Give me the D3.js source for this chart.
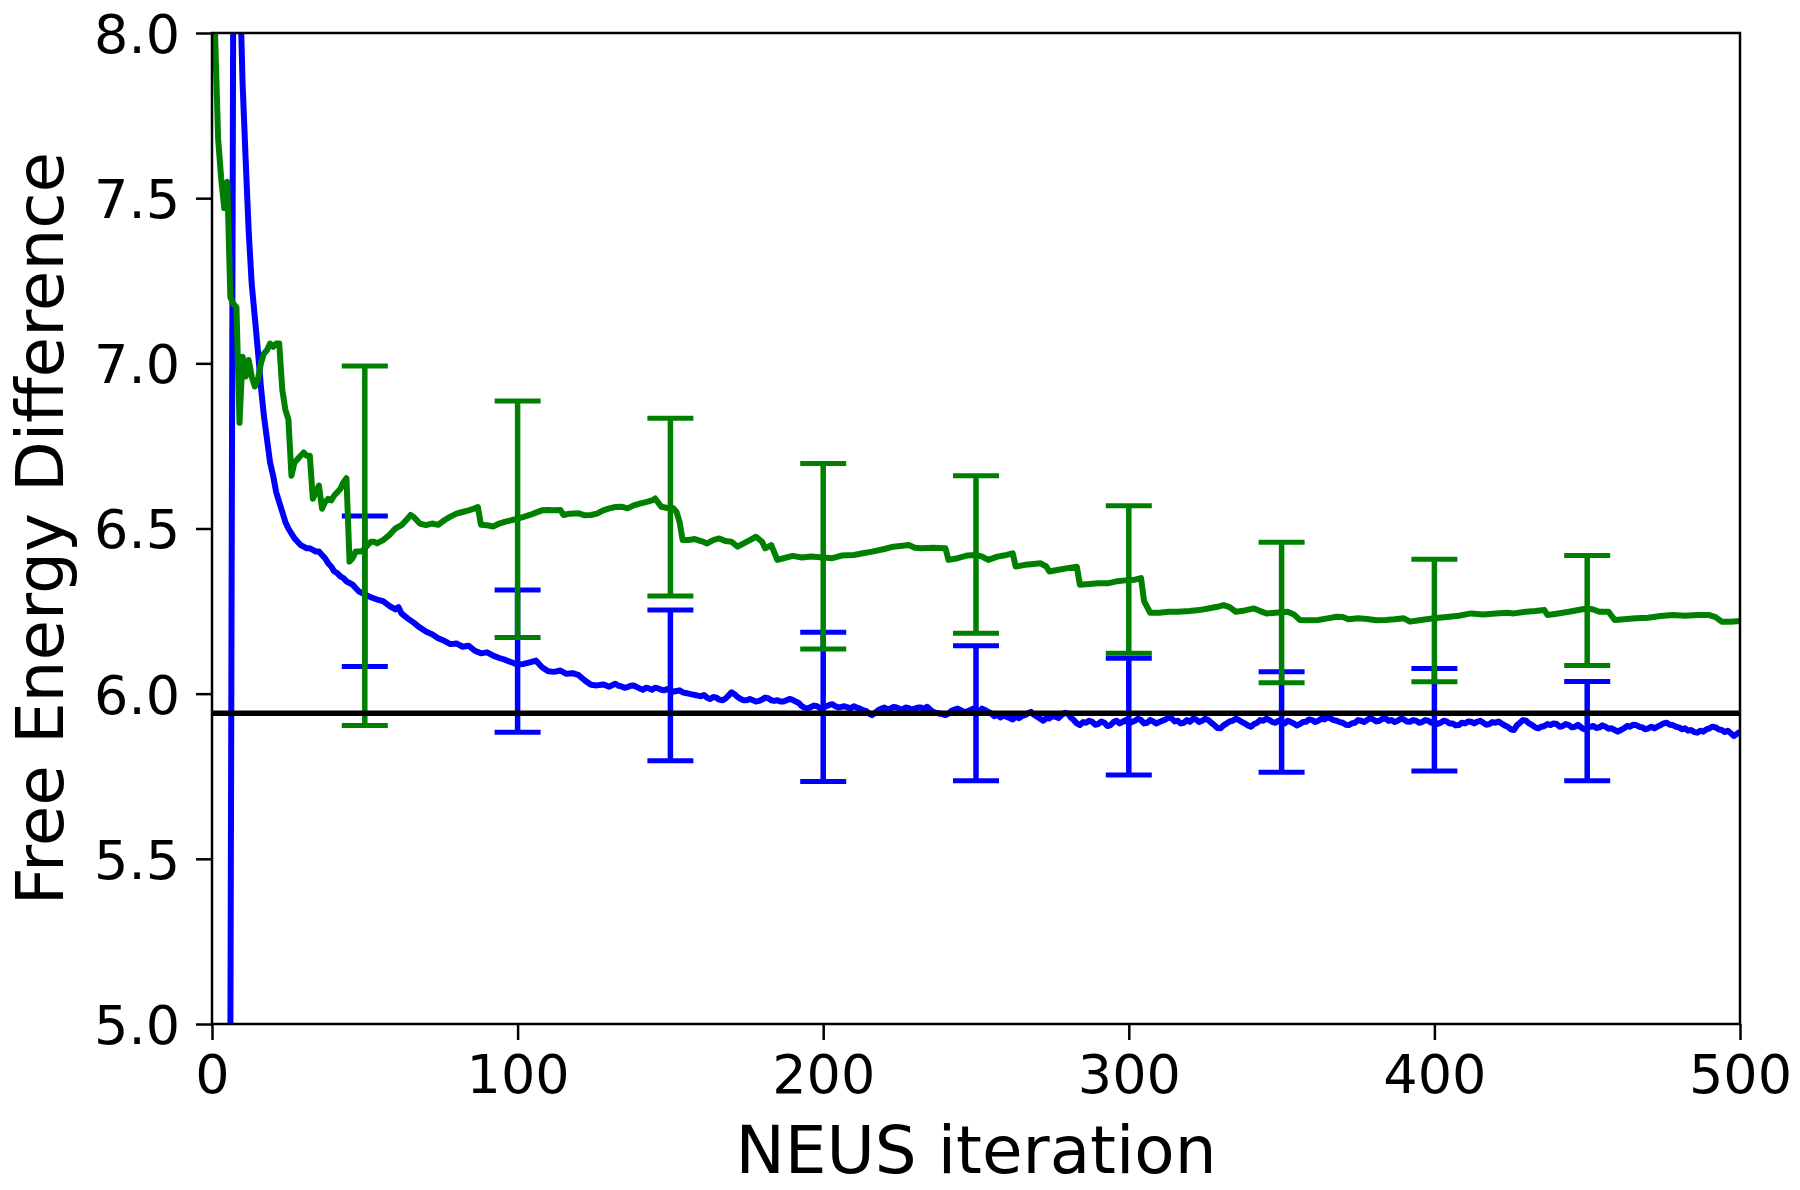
<!DOCTYPE html>
<html><head><meta charset="utf-8">
<script src="https://cdn.jsdelivr.net/npm/d3@7"></script>
<style>body{margin:0;background:#fff}</style>
</head><body>
<svg id="chart" width="1800" height="1190"></svg>
<script>
// ---------- DATA ----------
const xTicks = [0, 100, 200, 300, 400, 500];
const yTicks = [5.0, 5.5, 6.0, 6.5, 7.0, 7.5, 8.0];
const referenceValue = 5.941;

// blue series: [iteration, free energy difference]
const blueSeries = [
[6,4.90],[7,8.30],[8,9.50],[9,8.20],[10,7.85],[11,7.62],[12,7.40],[13,7.24],[14,7.14],[15,7.04],[16,6.93],[17,6.84],[18,6.77],[19,6.70],[20,6.66],[21,6.61],[22,6.58],[23,6.55],[24,6.52],[25,6.50],[26,6.485],[27,6.47],[28,6.46],[29,6.45],[30,6.445],[31,6.44],[32,6.44],[33,6.435],[34,6.43],[35,6.43],[36,6.42],[37,6.41],[38,6.395],[39,6.385],[40,6.37],[41,6.365],[42,6.355],[43,6.35],[44,6.34],[45,6.335],[46,6.33],[47,6.32],[48,6.31],[49,6.305],[50,6.30],
[52,6.292],[54,6.285],[56,6.280],[58,6.266],[60,6.255],[61,6.262],[62,6.243],[64,6.228],[66,6.215],[68,6.200],[70,6.188],[72,6.180],[74,6.168],[76,6.160],[78,6.150],[80,6.152],[82,6.142],[84,6.145],[86,6.130],[88,6.122],[90,6.125],[92,6.115],[94,6.108],[96,6.102],[98,6.095],[100,6.088],[102,6.090],[104,6.095],[106,6.100],[108,6.080],[110,6.068],[112,6.066],[114,6.070],[116,6.060],[118,6.062],[120,6.056],[122,6.040],[124,6.027],[126,6.025],[128,6.028],[130,6.021],
[131,6.026],[132,6.030],[133,6.024],[134,6.022],[135,6.018],[136,6.020],[137,6.024],[138,6.025],[139,6.020],[140,6.016],[141,6.012],[142,6.018],[143,6.016],[144,6.012],[145,6.018],[146,6.016],[147,6.012],[148,6.010],[149,6.014],[150,6.011],[151,6.006],[152,6.008],[153,6.010],[154,6.004],[155,6.002],[156,6.000],[157,5.998],[158,5.996],[159,5.994],[160,5.992],[161,5.996],[162,5.988],[163,5.984],[164,5.990],[165,5.988],[166,5.982],[167,5.980],[168,5.985],[169,5.994],[170,6.004],[171,5.998],[172,5.990],[173,5.984],[174,5.980],[175,5.980],[176,5.984],[177,5.980],[178,5.976],[179,5.978],[180,5.982],[181,5.988],[182,5.986],[183,5.980],[184,5.978],[185,5.980],[186,5.976],[187,5.976],[188,5.980],[189,5.984],[190,5.981],[191,5.976],[192,5.972],[193,5.962],[194,5.957],[195,5.956],[196,5.960],[197,5.964],[198,5.962],[199,5.956],[200,5.958],[201,5.962],[202,5.966],[203,5.968],[204,5.962],[205,5.958],[206,5.960],[207,5.962],[208,5.958],[209,5.956],[210,5.962],[211,5.958],[212,5.955],[213,5.950],[214,5.948],[215,5.940],[216,5.935],[217,5.942],[218,5.950],[219,5.955],[220,5.958],[221,5.952],[222,5.955],[223,5.960],[224,5.958],[225,5.954],[226,5.952],[227,5.958],[228,5.956],[229,5.952],[230,5.955],[231,5.958],[232,5.958],[233,5.954],[234,5.960],[235,5.952],[236,5.945],[237,5.942],[238,5.940],[239,5.938],[240,5.935],[241,5.940],[242,5.948],[243,5.952],[244,5.955],[245,5.950],[246,5.945],[247,5.946],[248,5.950],[249,5.954],
[250,5.952],[251,5.945],[252,5.955],[253,5.950],[254,5.945],[255,5.940],[256,5.932],[257,5.936],[258,5.928],[259,5.934],[260,5.930],[261,5.926],[262,5.922],[263,5.930],[264,5.926],[265,5.932],[266,5.935],[267,5.940],[268,5.945],[269,5.936],[270,5.930],[271,5.924],[272,5.918],[273,5.926],[274,5.925],[275,5.932],[276,5.930],[277,5.926],[278,5.935],[279,5.942],[280,5.940],[281,5.928],[282,5.920],[283,5.910],[284,5.905],[285,5.914],[286,5.912],[287,5.918],[288,5.915],[289,5.906],[290,5.908],[291,5.916],[292,5.912],[293,5.902],[294,5.905],[295,5.914],[296,5.918],[297,5.910],[298,5.915],[299,5.920],
[300,5.910],[301,5.914],[302,5.918],[303,5.924],[304,5.920],[305,5.910],[306,5.912],[307,5.920],[308,5.916],[309,5.910],[310,5.914],[311,5.918],[312,5.922],[313,5.928],[314,5.925],[315,5.916],[316,5.918],[317,5.910],[318,5.912],[319,5.920],[320,5.915],[321,5.924],[322,5.922],[323,5.914],[324,5.918],[325,5.924],[326,5.920],[327,5.912],[328,5.905],[329,5.896],[330,5.895],[331,5.904],[332,5.910],[333,5.916],[334,5.918],[335,5.924],[336,5.920],[337,5.914],[338,5.910],[339,5.904],[340,5.900],[341,5.908],[342,5.912],[343,5.920],[344,5.918],[345,5.924],[346,5.920],[347,5.914],[348,5.912],[349,5.918],
[350,5.915],[351,5.910],[352,5.918],[353,5.914],[354,5.910],[355,5.904],[356,5.908],[357,5.914],[358,5.915],[359,5.922],[360,5.920],[361,5.914],[362,5.918],[363,5.924],[364,5.922],[365,5.928],[366,5.925],[367,5.920],[368,5.918],[369,5.914],[370,5.912],[371,5.906],[372,5.905],[373,5.910],[374,5.912],[375,5.920],[376,5.918],[377,5.914],[378,5.920],[379,5.926],[380,5.922],[381,5.916],[382,5.918],[383,5.924],[384,5.925],[385,5.918],[386,5.920],[387,5.914],[388,5.918],[389,5.924],[390,5.922],[391,5.916],[392,5.915],[393,5.920],[394,5.918],[395,5.912],[396,5.914],[397,5.920],[398,5.918],[399,5.912],
[400,5.915],[401,5.908],[402,5.912],[403,5.918],[404,5.916],[405,5.910],[406,5.910],[407,5.904],[408,5.905],[409,5.912],[410,5.910],[411,5.916],[412,5.915],[413,5.910],[414,5.915],[415,5.918],[416,5.912],[417,5.906],[418,5.908],[419,5.914],[420,5.912],[421,5.916],[422,5.910],[423,5.904],[424,5.900],[425,5.892],[426,5.890],[427,5.904],[428,5.912],[429,5.920],[430,5.918],[431,5.910],[432,5.905],[433,5.898],[434,5.895],[435,5.900],[436,5.902],[437,5.908],[438,5.905],[439,5.910],[440,5.908],[441,5.900],[442,5.902],[443,5.908],[444,5.905],[445,5.898],[446,5.900],[447,5.906],[448,5.898],[449,5.892],
[450,5.895],[451,5.900],[452,5.902],[453,5.896],[454,5.898],[455,5.904],[456,5.900],[457,5.894],[458,5.895],[459,5.890],[460,5.885],[461,5.890],[462,5.895],[463,5.902],[464,5.900],[465,5.906],[466,5.905],[467,5.900],[468,5.898],[469,5.892],[470,5.895],[471,5.900],[472,5.895],[473,5.900],[474,5.905],[475,5.910],[476,5.912],[477,5.906],[478,5.905],[479,5.900],[480,5.898],[481,5.892],[482,5.895],[483,5.888],[484,5.890],[485,5.884],[486,5.882],[487,5.888],[488,5.885],[489,5.892],[490,5.895],[491,5.900],[492,5.898],[493,5.892],[494,5.890],[495,5.884],[496,5.888],[497,5.880],[498,5.872],[499,5.878],[500,5.885]
];

// green series: [iteration, free energy difference]
const greenSeries = [
[0,8.60],[1,8.00],[2,7.68],[3,7.56],[4,7.47],[5,7.55],[6,7.20],[7,7.18],[8,7.17],[9,6.82],[10,7.02],[11,6.96],[12,7.01],[13,6.96],[14,6.93],[15,6.95],[16,7.00],[17,7.03],[18,7.04],[19,7.06],[20,7.05],[21,7.06],[22,7.06],[23,6.92],[24,6.86],[25,6.83],[26,6.66],[27,6.70],[28,6.71],[29,6.72],[30,6.73],[31,6.72],[32,6.72],[33,6.59],[34,6.61],[35,6.63],[36,6.56],[37,6.58],[38,6.59],[39,6.585],[40,6.60],[41,6.61],[42,6.62],[43,6.64],[44,6.652],[45,6.40],[46,6.41],[47,6.43],[48,6.43],[49,6.43],[50,6.44],[51,6.45],[52,6.46],[53,6.46],[54,6.455],[55,6.46],[56,6.465],[58,6.48],[60,6.50],[62,6.51],[64,6.53],[65,6.541],[66,6.535],[68,6.515],[70,6.51],[72,6.515],[74,6.511],[76,6.525],[78,6.536],[80,6.545],[82,6.55],[84,6.555],[86,6.561],[87,6.565],[88,6.511],[90,6.51],[92,6.506],[94,6.515],[96,6.521],[98,6.525],[100,6.53],[102,6.535],[104,6.541],[106,6.548],[108,6.555],[110,6.556],[112,6.555],[114,6.556],[115,6.541],[117,6.545],[120,6.546],[122,6.54],[124,6.541],[126,6.545],[128,6.555],[130,6.561],[132,6.565],[134,6.566],[136,6.561],[138,6.57],[140,6.575],[142,6.58],[144,6.585],[145,6.591],[147,6.566],[149,6.562],[151,6.561],[152,6.55],[153,6.52],[154,6.465],[156,6.465],[158,6.468],[160,6.462],[162,6.455],[164,6.465],[166,6.47],[168,6.462],[170,6.46],[172,6.445],[174,6.455],[176,6.465],[178,6.475],[180,6.46],[181,6.44],[183,6.45],[185,6.405],[187,6.41],[190,6.417],[193,6.412],[196,6.415],[200,6.412],[203,6.41],[206,6.418],[210,6.42],[213,6.425],[216,6.43],[220,6.438],[223,6.445],[226,6.448],[228,6.45],[230,6.442],[232,6.44],[236,6.442],[240,6.44],[241,6.405],[244,6.41],[247,6.418],[250,6.42],[252,6.415],[254,6.405],[257,6.415],[260,6.42],[262,6.425],[263,6.385],[266,6.39],[268,6.392],[271,6.395],[273,6.385],[274,6.37],[277,6.375],[280,6.38],[283,6.384],[284,6.33],[287,6.332],[290,6.334],[293,6.334],[296,6.34],[299,6.343],[302,6.345],[304,6.35],[305,6.28],[307,6.245],[310,6.245],[313,6.248],[316,6.248],[320,6.25],[323,6.253],[326,6.258],[329,6.263],[331,6.268],[333,6.262],[335,6.248],[338,6.252],[341,6.258],[343,6.25],[345,6.243],[348,6.245],[352,6.248],[354,6.24],[356,6.223],[359,6.222],[362,6.223],[365,6.228],[368,6.233],[370,6.232],[372,6.225],[375,6.228],[378,6.226],[381,6.222],[384,6.223],[387,6.225],[390,6.228],[392,6.218],[395,6.222],[398,6.226],[400,6.228],[404,6.232],[408,6.236],[412,6.243],[416,6.24],[420,6.243],[424,6.245],[426,6.243],[430,6.248],[433,6.25],[436,6.253],[437,6.238],[440,6.242],[444,6.248],[448,6.255],[450,6.258],[452,6.255],[454,6.248],[457,6.248],[459,6.223],[462,6.225],[466,6.228],[470,6.23],[474,6.235],[478,6.238],[482,6.236],[486,6.238],[490,6.238],[492,6.232],[494,6.218],[497,6.218],[500,6.22]
];

// error bars
const errIter    = [50, 100, 150, 200, 250, 300, 350, 400, 450];
const blueUpper  = [6.538, 6.314, 6.253, 6.186, 6.145, 6.107, 6.066, 6.076, 6.037];
const blueLower  = [6.082, 5.883, 5.797, 5.734, 5.736, 5.754, 5.762, 5.766, 5.736];
const greenUpper = [6.992, 6.886, 6.834, 6.697, 6.660, 6.569, 6.458, 6.407, 6.418];
const greenLower = [5.904, 6.170, 6.296, 6.135, 6.183, 6.122, 6.033, 6.036, 6.085];

// ---------- LAYOUT ----------
const W = 1800, H = 1190;
const m = {left: 212, top: 33, right: 60, bottom: 166};
const pw = W - m.left - m.right, ph = H - m.top - m.bottom;
const FONT = "'DejaVu Sans', sans-serif";

const svg = d3.select("#chart");
const x = d3.scaleLinear().domain([0, 500]).range([0, pw]);
const y = d3.scaleLinear().domain([5, 8]).range([ph, 0]);

const g = svg.append("g").attr("transform", `translate(${m.left},${m.top})`);

svg.append("defs").append("clipPath").attr("id", "clip")
  .append("rect").attr("x", 0).attr("y", 0).attr("width", pw).attr("height", ph);

const plot = g.append("g").attr("clip-path", "url(#clip)");
const line = d3.line().x(d => x(d[0])).y(d => y(d[1]));

function drawSeries(series, upper, lower, color) {
  plot.append("path").datum(series)
    .attr("fill", "none").attr("stroke", color).attr("stroke-width", 6)
    .attr("stroke-linejoin", "round").attr("d", line);
  const eb = plot.append("g");
  errIter.forEach((it, i) => {
    eb.append("line").attr("x1", x(it)).attr("x2", x(it))
      .attr("y1", y(upper[i])).attr("y2", y(lower[i]))
      .attr("stroke", color).attr("stroke-width", 5.5);
    [upper[i], lower[i]].forEach(v => {
      eb.append("line").attr("x1", x(it) - 23).attr("x2", x(it) + 23)
        .attr("y1", y(v)).attr("y2", y(v))
        .attr("stroke", color).attr("stroke-width", 5);
    });
  });
}
drawSeries(blueSeries, blueUpper, blueLower, "#0000ff");
drawSeries(greenSeries, greenUpper, greenLower, "#008000");

plot.append("line").attr("x1", 0).attr("x2", pw)
  .attr("y1", y(referenceValue)).attr("y2", y(referenceValue))
  .attr("stroke", "#000").attr("stroke-width", 5.5);

// frame
g.append("rect").attr("x", 0).attr("y", 0).attr("width", pw).attr("height", ph)
  .attr("fill", "none").attr("stroke", "#000").attr("stroke-width", 2.5);

// axes
const xAxis = g.append("g").attr("transform", `translate(0,${ph})`)
  .call(d3.axisBottom(x).tickValues(xTicks).tickFormat(d3.format("d")).tickSize(16).tickPadding(14));
const yAxis = g.append("g")
  .call(d3.axisLeft(y).tickValues(yTicks).tickFormat(d3.format(".1f")).tickSize(16).tickPadding(16));
[xAxis, yAxis].forEach(a => {
  a.select(".domain").remove();
  a.selectAll(".tick line").attr("stroke", "#000").attr("stroke-width", 2.5);
  a.selectAll(".tick text").attr("font-family", FONT).attr("font-size", 54).attr("fill", "#000");
});
yAxis.selectAll(".tick text").attr("dy", "0.36em");
xAxis.selectAll(".tick text").attr("dy", "0.72em");

// labels
svg.append("text").attr("x", m.left + pw / 2).attr("y", 1173)
  .attr("text-anchor", "middle").attr("font-family", FONT).attr("font-size", 66)
  .text("NEUS iteration");
svg.append("text").attr("transform", `translate(63,${m.top + ph / 2}) rotate(-90)`)
  .attr("text-anchor", "middle").attr("font-family", FONT).attr("font-size", 66)
  .text("Free Energy Difference");
</script>
</body></html>
